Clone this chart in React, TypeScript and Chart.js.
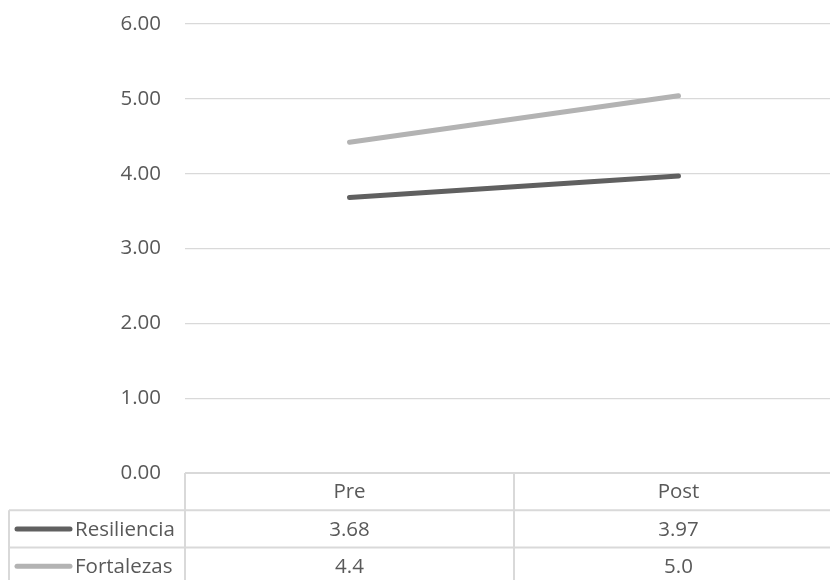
import React, { useEffect, useRef } from "react";
import { Chart, registerables } from "chart.js";

Chart.register(...registerables);

// ---- data ----
const categories = ["Pre", "Post"];
const seriesNames = ["Resiliencia", "Fortalezas"];
const resiliencia = [3.68, 3.97];
const fortalezas = [4.42, 5.04];
const tableDecimals = [2, 1];
const seriesColors = ["#606060", "#b3b3b3"];
const yMin = 0;
const yMax = 6;
const yStep = 1;

const FONT = "'Open Sans', sans-serif";
const FONT_SIZE = 20.5;
const TEXT = "#595959";
const GRID = "#d9d9d9";
const LINE_W = 5;
const CANVAS_W = 880;
const CANVAS_H = 580;
const PLOT_TOP = 24;
const PLOT_RIGHT = 843;
const PLOT_BOTTOM = 473;

const tablePlugin = {
  id: "dataTable",
  afterDraw(chart: any) {
    const ctx = chart.ctx as CanvasRenderingContext2D;
    const area = chart.chartArea;
    const xs = chart.scales.x;
    const rowH = 37.3;
    const top = area.bottom;
    const legendLeft = 9;
    const n = categories.length;
    const colW = (area.right - area.left) / n;
    const seriesData = [resiliencia, fortalezas];

    ctx.save();
    ctx.strokeStyle = GRID;
    ctx.lineWidth = 2;
    const line = (x1: number, y1: number, x2: number, y2: number) => {
      ctx.beginPath();
      ctx.moveTo(x1, y1);
      ctx.lineTo(x2, y2);
      ctx.stroke();
    };
    line(area.left, top, area.right, top);
    for (let r = 1; r <= 3; r++) {
      line(legendLeft, top + r * rowH, area.right, top + r * rowH);
    }
    line(legendLeft, top + rowH, legendLeft, top + 3 * rowH);
    for (let c = 0; c < n; c++) {
      const xx = area.left + c * colW;
      line(xx, top, xx, top + 3 * rowH);
    }

    ctx.font = `${FONT_SIZE}px ${FONT}`;
    ctx.fillStyle = TEXT;
    ctx.textBaseline = "middle";
    ctx.textAlign = "center";
    categories.forEach((cat, i) => {
      ctx.fillText(cat, xs.getPixelForValue(i), top + rowH / 2 + 1);
    });

    seriesNames.forEach((name, s) => {
      const cy = top + rowH * (s + 1) + rowH / 2;
      ctx.strokeStyle = seriesColors[s];
      ctx.lineWidth = LINE_W;
      ctx.lineCap = "round";
      line(17, cy, 70, cy);
      ctx.textAlign = "left";
      ctx.fillStyle = TEXT;
      ctx.fillText(name, 75, cy + 1);
      ctx.textAlign = "center";
      seriesData[s].forEach((v, i) => {
        ctx.fillText(v.toFixed(tableDecimals[s]), xs.getPixelForValue(i), cy + 1);
      });
    });
    ctx.restore();
  },
};

export default function App() {
  const ref = useRef<HTMLCanvasElement | null>(null);

  useEffect(() => {
    if (!ref.current) return;
    const chart = new Chart(ref.current, {
      type: "line",
      data: {
        labels: categories,
        datasets: [
          {
            label: seriesNames[0],
            data: resiliencia,
            borderColor: seriesColors[0],
            backgroundColor: seriesColors[0],
            borderWidth: LINE_W,
            borderCapStyle: "round",
            pointRadius: 0,
            tension: 0,
          },
          {
            label: seriesNames[1],
            data: fortalezas,
            borderColor: seriesColors[1],
            backgroundColor: seriesColors[1],
            borderWidth: LINE_W,
            borderCapStyle: "round",
            pointRadius: 0,
            tension: 0,
          },
        ],
      },
      options: {
        responsive: false,
        animation: false,
        layout: {
          padding: {
            top: PLOT_TOP,
            bottom: CANVAS_H - PLOT_BOTTOM,
            right: CANVAS_W - PLOT_RIGHT,
            left: 0,
          },
        },
        plugins: { legend: { display: false }, tooltip: { enabled: false } },
        scales: {
          x: {
            display: false,
            offset: true,
          },
          y: {
            min: yMin,
            max: yMax,
            afterFit: (scale: any) => {
              scale.width = 185;
            },
            ticks: {
              stepSize: yStep,
              padding: 0,
              color: TEXT,
              font: { family: FONT, size: FONT_SIZE },
              callback: (v: any) => Number(v).toFixed(2),
            },
            grid: {
              color: GRID,
              lineWidth: 1.3,
              drawTicks: true,
              tickLength: 24,
              tickColor: "rgba(0,0,0,0)",
            },
            border: { display: false },
          },
        },
      },
      plugins: [tablePlugin],
    });
    return () => chart.destroy();
  }, []);

  return (
    <div
      style={{
        position: "fixed",
        left: 0,
        top: 0,
        width: 830,
        height: 580,
        overflow: "hidden",
        background: "#fff",
      }}
    >
      <canvas
        ref={ref}
        width={CANVAS_W}
        height={CANVAS_H}
        style={{ width: CANVAS_W, height: CANVAS_H, display: "block" }}
      />
    </div>
  );
}
